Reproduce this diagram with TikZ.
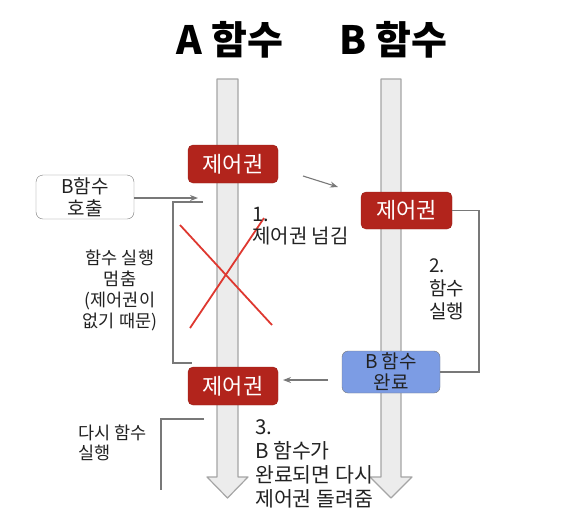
\documentclass[tikz,border=0pt]{standalone}
\usepackage{fontspec}
\setmainfont{Noto Sans CJK KR}
\usetikzlibrary{arrows.meta}
\definecolor{ctrlred}{RGB}{178,36,28}
\definecolor{bblue}{RGB}{124,156,228}
\definecolor{shaftfill}{RGB}{236,236,236}
\definecolor{shaftline}{RGB}{165,165,165}
\definecolor{conn}{RGB}{120,120,120}
\definecolor{txt}{RGB}{34,34,34}
\definecolor{xred}{RGB}{222,56,48}
\tikzset{
  bigarrow/.style={draw=shaftline, fill=shaftfill, line width=1.2pt, line join=round},
  ctrlbox/.style={draw=ctrlred!85!black, fill=ctrlred, rounded corners=5pt, text=white,
    minimum width=90pt, minimum height=38pt, inner sep=0pt, font=\fontsize{22}{24}\selectfont},
  callbox/.style={draw=conn, fill=white, rounded corners=7pt, text=txt, align=center,
    minimum width=98pt, minimum height=44pt, inner sep=0pt, font=\fontsize{19}{22}\selectfont},
  donebox/.style={draw=conn, fill=bblue, rounded corners=6pt, text=txt, align=center,
    minimum width=98pt, minimum height=42pt, inner sep=0pt, font=\fontsize{19}{21}\selectfont},
  conn/.style={draw=conn, line width=1.1pt},
  connarrow/.style={conn, -{Stealth[length=8pt,width=6pt]}},
  note/.style={text=txt, inner sep=0pt},
  title/.style={text=black, inner sep=0pt, font=\fontsize{39}{42}\selectfont\bfseries},
  xline/.style={draw=xred, line width=1.8pt},
}
\begin{document}
\begin{tikzpicture}[x=1pt,y=-1pt]
\useasboundingbox (0,0) rectangle (588,523);
% titles
\node[title] (titleA) at (230,40) {A 함수};
\node[title] (titleB) at (393,40) {B 함수};
% big arrows
\draw[bigarrow] (217,79) -- (238,79) -- (238,477) -- (248,477) -- (227.5,498) -- (207,477) -- (217,477) -- cycle;
\draw[bigarrow] (381,79) -- (401,79) -- (401,477) -- (412,477) -- (391,498) -- (370,477) -- (381,477) -- cycle;
% red X
\coordinate (x1a) at (180,225);
\coordinate (x1b) at (272,325);
\coordinate (x2a) at (190,328);
\coordinate (x2b) at (264,218);
\draw[xline] (x1a) -- (x1b);
\draw[xline] (x2a) -- (x2b);
% boxes
\node[ctrlbox] (ctrlA1) at (233,164) {제어권};
\node[ctrlbox, minimum width=91pt, minimum height=37pt] (ctrlB) at (406.5,210.5) {제어권};
\node[ctrlbox] (ctrlA2) at (233,386) {제어권};
\node[callbox] (callB) at (85,197) {B함수\\호출};
\node[donebox] (doneB) at (391,372) {B 함수\\완료};
% connectors
\coordinate (callEnd) at (198,198);
\draw[connarrow] (callB.east |- callEnd) -- (callEnd);
\coordinate (p1s) at (303,176);
\coordinate (p1e) at (338,187);
\draw[connarrow] (p1s) -- (p1e);
\coordinate (p3s) at (328,380);
\coordinate (p3e) at (283,380);
\draw[connarrow] (p3s) -- (p3e);
% brackets
\coordinate (bl1) at (203,202);
\coordinate (bl2) at (173,202);
\coordinate (bl3) at (173,363);
\coordinate (bl4) at (192,363);
\draw[conn] (bl1) -- (bl2) -- (bl3) -- (bl4);
\coordinate (br1) at (479,210.5);
\coordinate (br2) at (479,372);
\draw[conn] (ctrlB.east) -- (br1) -- (br2) -- (doneB.east);
\coordinate (bb1) at (204,419);
\coordinate (bb2) at (161,419);
\coordinate (bb3) at (161,490);
\draw[conn] (bb1) -- (bb2) -- (bb3);
% labels
\node[note, anchor=west, align=left, font=\fontsize{20}{22}\selectfont] (lab1) at (252,226) {1.\\제어권 넘김};
\node[note, align=center, font=\fontsize{17.5}{21}\selectfont] (labStop) at (120,290) {함수 실행\\멈춤\\(제어권이\\없기 때문)};
\node[note, anchor=west, align=left, font=\fontsize{19}{23}\selectfont] (lab2) at (429,289) {2.\\함수\\실행};
\node[note, anchor=west, align=left, font=\fontsize{17.5}{20}\selectfont] (labAgain) at (78,443) {다시 함수\\실행};
\node[note, anchor=west, align=left, font=\fontsize{20.5}{24}\selectfont] (lab3) at (255,463.5) {3.\\B 함수가\\완료되면 다시\\제어권 돌려줌};
\end{tikzpicture}
\end{document}
